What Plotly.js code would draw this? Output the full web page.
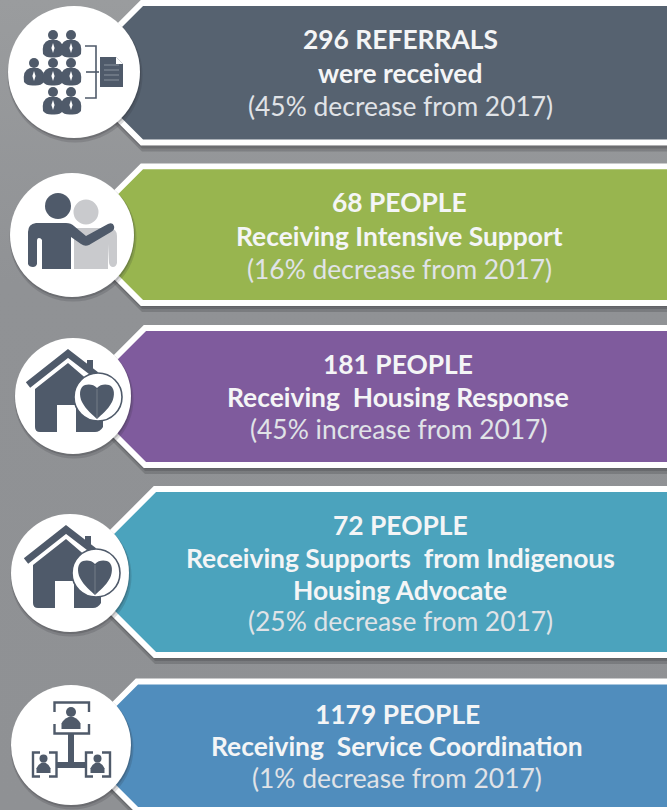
<!DOCTYPE html>
<html><head><meta charset="utf-8">
<script src="https://cdn.plot.ly/plotly-3.0.1.min.js"></script>
<style>html,body{margin:0;padding:0;background:#909396}#c{width:667px;height:810px;background:linear-gradient(180deg,#9a9c9e 0%,#909295 35%,#8f9194 100%)}</style>
</head><body><div id="c"></div>
<script>
// ---- chart content ----
var counts = ['296', '68', '181', '72', '1179'];
var units = ['REFERRALS', 'PEOPLE', 'PEOPLE', 'PEOPLE', 'PEOPLE'];
var descriptions = [
  ['were received'],
  ['Receiving Intensive Support'],
  ['Receiving\u00a0\u00a0Housing Response'],
  ['Receiving Supports\u00a0\u00a0from Indigenous', 'Housing Advocate'],
  ['Receiving\u00a0\u00a0Service Coordination']
];
var changes = ['45%', '16%', '45%', '25%', '1%'];
var directions = ['decrease', 'decrease', 'increase', 'decrease', 'decrease'];
var baseYear = '2017';

// ---- layout of the banners ----
var bannerColors = ['#566270', '#98b54f', '#7f5b9d', '#4ba3bd', '#508dbd'];
var bannerTops = [3, 166.3, 328, 489, 681.5];
var bannerBottoms = [142.5, 303, 465, 655, 810];
var bannerCorners = [142, 142, 145, 155, 137];
var circleX = [74, 72, 73, 70, 71];
var circleY = [72, 235, 396, 573, 745];
var circleR = [66, 62, 58, 59, 60];
var lineY = [[38.5, 72.5, 105.5], [201.5, 235.5, 268.5], [364, 396.5, 428.5], [524.5, 557.5, 589.5, 620.5], [713.5, 745.5, 777.5]];
var textX = [400, 399, 398, 400, 397];

var INK = '#4f5a6a', LIGHT = '#c9cacd', WHITE = '#ffffff';
var shapes = [], annotations = [], traces = [];

function bannerXY(i, dy) {
  var t = bannerTops[i] + dy, b = bannerBottoms[i] + dy, c = bannerCorners[i];
  var h = (b - t) / 2;
  return {x: [672, c, c - h, c, 672, 672], y: [t, t, t + h, b, b, t]};
}
function pathOf(p) {
  return p.x.map(function (v, k) { return (k ? 'L' : 'M') + v + ',' + p.y[k]; }).join(' ') + ' Z';
}

// shadows beneath each banner
bannerColors.forEach(function (_, i) {
  [9, 6, 3.5].forEach(function (d) {
    shapes.push({type: 'path', layer: 'below', path: pathOf(bannerXY(i, d)),
      fillcolor: 'rgba(45,45,50,0.22)', line: {width: 0}, xref: 'x', yref: 'y'});
  });
  var p = bannerXY(i, 0);
  traces.push({type: 'scatter', mode: 'lines', x: p.x, y: p.y, fill: 'toself',
    fillcolor: bannerColors[i], line: {color: WHITE, width: 5.8}, hoverinfo: 'skip', showlegend: false});
});

function add(s) { s.xref = 'x'; s.yref = 'y'; s.layer = 'above'; shapes.push(s); }
function fillPath(d, c) { add({type: 'path', path: d, fillcolor: c || INK, line: {width: 0}}); }
function strokePath(d, w, c) { add({type: 'path', path: d, fillcolor: 'rgba(0,0,0,0)', line: {color: c || INK, width: w}}); }
function disc(x, y, r, c, lw, lc) {
  add({type: 'circle', x0: x - r, x1: x + r, y0: y - r, y1: y + r, fillcolor: c,
    line: {width: lw || 0, color: lc || c}});
}

// round plates
circleX.forEach(function (x, i) {
  disc(x + 1, circleY[i] + 3, circleR[i] + 1.5, 'rgba(40,40,45,0.16)');
  disc(x + 0.5, circleY[i] + 1.5, circleR[i] + 0.5, 'rgba(40,40,45,0.22)');
  disc(x, circleY[i], circleR[i], WHITE);
});

// icon 1: staff group and document
function suit(cx, cy) {
  disc(cx, cy, 5, INK);
  fillPath('M' + (cx - 10) + ',' + (cy + 19) + ' Q' + (cx - 11.5) + ',' + (cy + 7) + ' ' + (cx - 4) + ',' + (cy + 5) +
    ' L' + (cx + 4) + ',' + (cy + 5) + ' Q' + (cx + 11.5) + ',' + (cy + 7) + ' ' + (cx + 10) + ',' + (cy + 19) +
    ' Q' + (cx + 7) + ',' + (cy + 23) + ' ' + cx + ',' + (cy + 22.5) + ' Q' + (cx - 7) + ',' + (cy + 23) + ' ' + (cx - 10) + ',' + (cy + 19) + ' Z');
  fillPath('M' + cx + ',' + (cy + 8) + ' L' + (cx + 1.6) + ',' + (cy + 13) + ' L' + cx + ',' + (cy + 18) + ' L' + (cx - 1.6) + ',' + (cy + 13) + ' Z', WHITE);
}
[[53, 35], [71, 35], [34, 63], [53, 63], [71, 63], [53, 92], [71, 92]].forEach(function (p) { suit(p[0], p[1]); });
strokePath('M85,46 L96,46 L96,98 L85,98', 1.6);
strokePath('M86,72 L99,72', 1.6);
fillPath('M100,57 L116,57 L123,64 L123,87 L100,87 Z');
fillPath('M116,57 L123,64 L116,64 Z', WHITE);
[65, 70, 75, 80].forEach(function (y) { strokePath('M104,' + y + ' L119,' + y, 1, '#8a929d'); });

// icon 2: two figures, arm across shoulder
disc(86, 212, 12.5, LIGHT);
fillPath('M74,228 L110,228 Q117,229 117,236 L117,263 Q116,267 113,267 Q110,267 109,263 L108,244 L108,269 L74,269 Z', LIGHT);
disc(58, 206, 13, INK);
fillPath('M36,223 L66,223 Q71,223 74,226 L86,236 L108,224 Q113,222 114,226 Q115,230 111,232 L89,245 Q85,247 81,244 L71,237 L71,269 L42,269 L42,240 Q41,238 39,238 Q37,238 37,241 L37,264 Q36,267 33,267 Q29,267 28,264 L28,232 Q28,224 36,223 Z');

// icons 3 and 4: house with heart
function house(dx, dy) {
  var X = function (v) { return v + dx; }, Y = function (v) { return v + dy; };
  fillPath('M' + X(68) + ',' + Y(363) + ' L' + X(35) + ',' + Y(389) + ' L' + X(35) + ',' + Y(427) +
    ' Q' + X(35) + ',' + Y(432) + ' ' + X(40) + ',' + Y(432) + ' L' + X(57) + ',' + Y(432) + ' L' + X(57) + ',' + Y(405) +
    ' L' + X(76) + ',' + Y(405) + ' L' + X(76) + ',' + Y(432) + ' L' + X(95) + ',' + Y(432) + ' Q' + X(100) + ',' + Y(432) + ' ' + X(103) + ',' + Y(427) +
    ' L' + X(103) + ',' + Y(393) + ' Z');
  strokePath('M' + X(28) + ',' + Y(385) + ' L' + X(68) + ',' + Y(353.5) + ' L' + X(96) + ',' + Y(375), 7);
  fillPath('M' + X(87) + ',' + Y(360) + ' L' + X(93) + ',' + Y(360) + ' L' + X(93) + ',' + Y(372) + ' L' + X(87) + ',' + Y(368) + ' Z');
  disc(X(98), Y(397), 24, WHITE, 1.6, INK);
  var H = [[0, 0], [-3, -4], [-9, -4], [-12, -3], [-18, -1], [-18, 8], [-15, 14], [-11, 22], [-4, 27], [0, 31],
           [4, 27], [11, 22], [15, 14], [18, 8], [18, -1], [12, -3], [9, -4], [3, -4], [0, 0]];
  var cx = X(97), cy = Y(388), d = 'M' + (cx + H[0][0]) + ',' + (cy + H[0][1]);
  for (var k = 1; k < H.length; k += 3) {
    d += ' C' + (cx + H[k][0]) + ',' + (cy + H[k][1]) + ' ' + (cx + H[k + 1][0]) + ',' + (cy + H[k + 1][1]) + ' ' + (cx + H[k + 2][0]) + ',' + (cy + H[k + 2][1]);
  }
  fillPath(d + ' Z');
  strokePath('M' + cx + ',' + (cy + 1) + ' L' + cx + ',' + (cy + 30), 0.8, '#7d8591');
}
house(0, 0);
house(-2, 176);

// icon 5: coordination chart
function bust(cx, cy, r, w, h) {
  disc(cx, cy, r, INK);
  fillPath('M' + (cx - w) + ',' + (cy + r + h) + ' L' + (cx - w) + ',' + (cy + r + h * 0.55) + ' Q' + (cx - w * 0.8) + ',' + (cy + r + h * 0.2) + ' ' + (cx - w * 0.25) + ',' + (cy + r) +
    ' L' + (cx + w * 0.25) + ',' + (cy + r) + ' Q' + (cx + w * 0.8) + ',' + (cy + r + h * 0.2) + ' ' + (cx + w) + ',' + (cy + r + h * 0.55) + ' L' + (cx + w) + ',' + (cy + r + h) + ' Z');
}
strokePath('M54.5,712 L54.5,702.5 L89,702.5 L89,712', 2.4);
strokePath('M54.5,724 L54.5,733.5 L89,733.5 L89,724', 2.4);
bust(71, 712, 5, 9.5, 12);
fillPath('M68,734 L74,734 L74,762 L86,762 L86,768 L57,768 L57,762 L68,762 Z');
strokePath('M40,752.5 L33,752.5 L33,776.5 L40,776.5', 2.4);
strokePath('M49,752.5 L56.5,752.5 L56.5,776.5 L49,776.5', 2.4);
strokePath('M93,752.5 L86,752.5 L86,776.5 L93,776.5', 2.4);
strokePath('M102,752.5 L110,752.5 L110,776.5 L102,776.5', 2.4);
bust(43.5, 758.5, 4, 7, 10.5);
bust(97.5, 758.5, 4, 7, 10.5);

// text
var FONT = 'Lato, "Open Sans", sans-serif';
function label(x, y, t, bold, color) {
  annotations.push({x: x, y: y, xref: 'x', yref: 'y', showarrow: false, xanchor: 'center', yanchor: 'middle',
    text: bold ? '<b>' + t + '</b>' : t, font: {family: FONT, size: 26.4, color: color}});
}
counts.forEach(function (c, i) {
  var lines = [c + ' ' + units[i]].concat(descriptions[i]);
  lines.forEach(function (t, k) { label(textX[i], lineY[i][k], t, true, '#f4f5f6'); });
  label(textX[i], lineY[i][lines.length],
    '(' + changes[i] + ' ' + directions[i] + ' from ' + baseYear + ')', false, '#e0e3e7');
});

Plotly.newPlot('c', traces, {
  width: 667, height: 810,
  margin: {l: 0, r: 0, t: 0, b: 0, pad: 0},
  paper_bgcolor: 'rgba(0,0,0,0)', plot_bgcolor: 'rgba(0,0,0,0)',
  xaxis: {range: [0, 667], visible: false, fixedrange: true},
  yaxis: {range: [810, 0], visible: false, fixedrange: true},
  showlegend: false, shapes: shapes, annotations: annotations
}, {displayModeBar: false, staticPlot: true});
</script></body></html>
